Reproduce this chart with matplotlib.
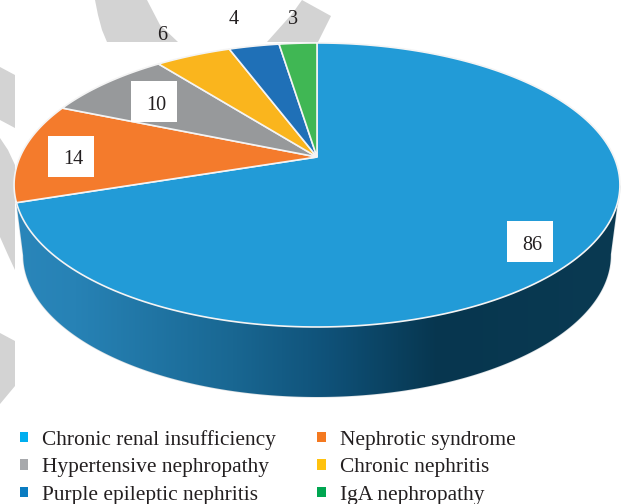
import numpy as np
import matplotlib
matplotlib.use('Agg')
import matplotlib.pyplot as plt
from matplotlib.colors import LinearSegmentedColormap
from matplotlib.patches import Patch, Polygon

categories = ['Chronic renal insufficiency', 'Nephrotic syndrome',
              'Hypertensive nephropathy', 'Chronic nephritis',
              'Purple epileptic nephritis', 'IgA nephropathy']
values = [86, 14, 10, 6, 4, 3]
slice_colors = ['#229bd7', '#f47b2c', '#97999b', '#fab51d', '#1f70b7', '#40b754']
legend_colors = ['#00aeef', '#f47920', '#a7a9ac', '#ffc20e', '#0a7cc1', '#00a651']

# label centres, and which ones sit on a white box
label_pos = [(532, 245), (73, 160), (156, 105), (162, 35), (234, 20), (293, 20)]
label_box = [True, True, True, False, False, False]

# faint grey watermark pieces behind the chart
watermark = [
    [(95, 0), (98, 15), (102, 30), (107, 42), (178, 42), (160, 25), (147, 0)],
    [(302, 0), (292, 14), (267, 42), (318, 42), (331, 16)],
    [(0, 67), (15, 75), (15, 128), (0, 120)],
    [(0, 138), (8, 150), (15, 165), (15, 270), (8, 255), (0, 237)],
    [(0, 333), (15, 341), (15, 386), (0, 404)],
]

# disc projection, tilted so the back looks smaller
CX, CY = 317, 157
RX, RY, TILT = 297, 136.5, 0.197
DEPTH = 70
BOTTOM_SCALE = 0.97


def project(angles):
    u = np.sin(angles)
    v = np.cos(angles)
    w = 1 + TILT * v
    return CX + RX * u / w, CY - RY * v / w


fig = plt.figure(figsize=(6.26, 5.04), dpi=100)
ax = fig.add_axes([0, 0, 1, 1])

for piece in watermark:
    ax.add_patch(Polygon(piece, closed=True, fc='#d3d3d3', ec='none', zorder=1))

edges = np.cumsum([0] + values) / sum(values) * 2 * np.pi

# side wall of the big slice, shaded left to right
x, y = project(np.linspace(edges[0], edges[1], 400))
start = np.argmax(x)
top_edge = np.column_stack([x[start:], y[start:]])
bx, by = project(np.linspace(edges[0], edges[1] + 0.5, 500))
bx = CX + (bx - CX) * BOTTOM_SCALE
by = by + DEPTH
low, high = np.argmax(bx), np.argmin(bx)
bottom_edge = np.column_stack([bx[low:high + 1], by[low:high + 1]])
wall = np.vstack([top_edge, bottom_edge[::-1]])
wall_patch = Polygon(wall, closed=True, fc='none', ec='#d9dfe3', lw=1.0, zorder=2)
ax.add_patch(wall_patch)
wall_cmap = LinearSegmentedColormap.from_list(
    'wall', [(0, '#2a86ba'), (0.1, '#2782b5'), (0.36, '#196792'), (0.52, '#0f5178'),
             (0.7, '#07364f'), (1, '#0a3a52')])
img = ax.imshow(np.linspace(0, 1, 256).reshape(1, -1), cmap=wall_cmap,
                extent=(15, 620, 504, 0), aspect='auto', zorder=2.1)
img.set_clip_path(wall_patch)

for i, color in enumerate(slice_colors):
    t = np.linspace(edges[i], edges[i + 1], 200)
    sx, sy = project(t)
    pts = np.column_stack([np.r_[CX, sx], np.r_[CY, sy]])
    ax.add_patch(Polygon(pts, closed=True, fc=color, ec='#f4f4f4', lw=1.2, zorder=3))

for val, pos, boxed in zip(values, label_pos, label_box):
    if boxed:
        ax.add_patch(plt.Rectangle((pos[0] - 25, pos[1] - 24), 46, 41,
                                   fc='white', ec='none', zorder=4))
    ax.text(pos[0], pos[1], str(val), ha='center', va='center', fontsize=14.5,
            family='Liberation Serif', color='#231f20', zorder=5)

# legend fills columns first, so order the entries to read across the rows
order = [0, 2, 4, 1, 3, 5]
handles = [Patch(fc=legend_colors[i], ec='none', label=categories[i]) for i in order]
ax.legend(handles=handles, ncol=2, frameon=False, loc='lower left',
          bbox_to_anchor=(1 / 626, -20 / 504),
          prop={'family': 'Liberation Serif', 'size': 15.4},
          labelcolor='#231f20', handlelength=0.38, handleheight=0.38,
          handletextpad=0.66, columnspacing=1.92, labelspacing=0.4)

ax.set_xlim(0, 626)
ax.set_ylim(504, 0)
ax.axis('off')
fig.savefig('out.png', dpi=100, facecolor='white')
